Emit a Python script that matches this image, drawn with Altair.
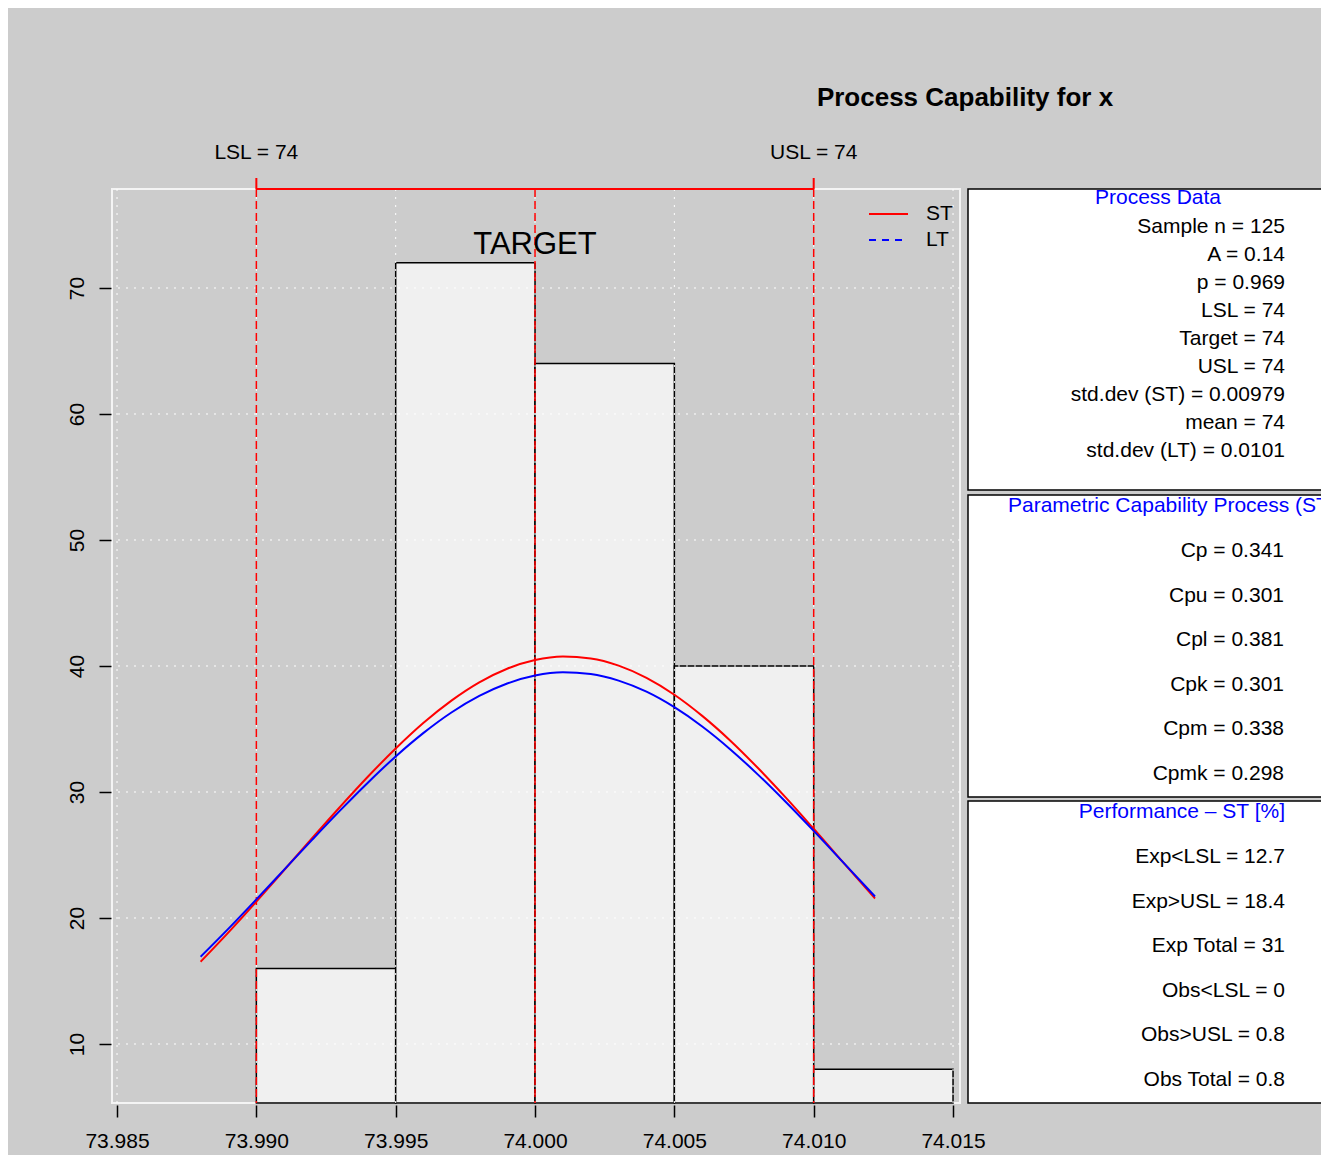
import altair as alt
import pandas as pd

# ---------------- data ----------------
bin_left = [73.990, 73.995, 74.000, 74.005, 74.010]
bin_right = [73.995, 74.000, 74.005, 74.010, 74.015]
density = [16, 72, 64, 40, 8]

curve_x = [73.988, 73.989, 73.990, 73.991, 73.992, 73.993, 73.994, 73.995,
           73.996, 73.997, 73.998, 73.999, 74.000, 74.001, 74.002, 74.003,
           74.004, 74.005, 74.006, 74.007, 74.008, 74.009, 74.010, 74.011,
           74.012, 74.0122]
st_density = [16.53, 18.86, 21.30, 23.81, 26.33, 28.81, 31.21, 33.45,
              35.49, 37.25, 38.70, 39.78, 40.47, 40.75, 40.60, 40.03,
              39.06, 37.72, 36.04, 34.09, 31.90, 29.55, 27.08, 24.56,
              22.05, 21.55]
lt_density = [16.93, 19.16, 21.48, 23.84, 26.20, 28.52, 30.74, 32.82,
              34.69, 36.31, 37.62, 38.61, 39.24, 39.50, 39.36, 38.84,
              37.96, 36.73, 35.20, 33.40, 31.38, 29.20, 26.91, 24.55,
              22.18, 21.71]

spec_values = [73.990, 74.000, 74.010]          # LSL, Target, USL
limit_values = [73.990, 74.010]
limit_labels = ["LSL = 74", "USL = 74"]
target_value = 74.000
target_label = "TARGET"

x_ticks = [73.985, 73.990, 73.995, 74.000, 74.005, 74.010, 74.015]
y_ticks = [10, 20, 30, 40, 50, 60, 70]

chart_title = "Process Capability for x"
legend_labels = ["ST", "LT"]
legend_colors = ["#FF0000", "#0000FF"]

process_title = "Process Data"
process_lines = ["Sample n = 125", "A = 0.14", "p = 0.969", "LSL = 74",
                 "Target = 74", "USL = 74", "std.dev (ST) = 0.00979",
                 "mean = 74", "std.dev (LT) = 0.0101"]
cap_title = "Parametric Capability Process (ST)"
cap_lines = ["Cp = 0.341", "Cpu = 0.301", "Cpl = 0.381", "Cpk = 0.301",
             "Cpm = 0.338", "Cpmk = 0.298"]
perf_title = "Performance \u2013 ST [%]"
perf_lines = ["Exp<LSL = 12.7", "Exp>USL = 18.4", "Exp Total = 31",
              "Obs<LSL = 0", "Obs>USL = 0.8", "Obs Total = 0.8"]

# ---------------- layout ----------------
FONT = "Liberation Sans"
PW, PH = 848, 914
one = pd.DataFrame({"a": [0]})

xs = alt.Scale(domain=[73.98482, 74.01525], nice=False, zero=False)
ys = alt.Scale(domain=[5.317, 77.857], nice=False, zero=False)

x_axis = alt.Axis(values=x_ticks, format=".3f", title=None, grid=False,
                  domain=False, tickColor="black", tickWidth=1.5, tickSize=12,
                  offset=2, labelFontSize=21, labelColor="black", labelFont=FONT,
                  labelPadding=13, labelFlush=False, labelOverlap=False)
y_axis = alt.Axis(values=y_ticks, title=None, grid=False, domain=False,
                  tickColor="black", tickWidth=1.5, tickSize=12, offset=1,
                  labelAngle=270, labelAlign="center", labelBaseline="bottom",
                  labelPadding=12, labelFontSize=21, labelColor="black",
                  labelFont=FONT, labelFlush=False, labelOverlap=False)

df_bins = pd.DataFrame({"left": bin_left, "right": bin_right, "density": density})
bars = alt.Chart(df_bins).mark_rect(fill="#F0F0F0", stroke="black", strokeWidth=1.5).encode(
    x=alt.X("left:Q", scale=xs, axis=x_axis),
    x2="right:Q",
    y=alt.Y("density:Q", scale=ys, axis=y_axis),
    y2=alt.value(PH),
)

vgrid = alt.Chart(pd.DataFrame({"v": x_ticks})).mark_rule(
    color="white", strokeDash=[2, 6], strokeWidth=1).encode(x=alt.X("v:Q", scale=xs))
hgrid = alt.Chart(pd.DataFrame({"v": y_ticks})).mark_rule(
    color="white", strokeDash=[2, 6], strokeWidth=1).encode(y=alt.Y("v:Q", scale=ys))

spec = alt.Chart(pd.DataFrame({"v": spec_values})).mark_rule(
    color="#FF0000", strokeDash=[8, 4], strokeWidth=1.5).encode(x=alt.X("v:Q", scale=xs))

df_lim = pd.DataFrame({"v": limit_values, "label": limit_labels})
bracket = alt.Chart(pd.DataFrame({"lo": [limit_values[0]], "hi": [limit_values[1]]})).mark_rule(
    color="#FF0000", strokeWidth=2).encode(x=alt.X("lo:Q", scale=xs), x2="hi:Q", y=alt.value(0))
bracket_ticks = alt.Chart(df_lim).mark_rule(color="#FF0000", strokeWidth=2).encode(
    x=alt.X("v:Q", scale=xs), y=alt.value(-11), y2=alt.value(0))
lim_text = alt.Chart(df_lim).mark_text(font=FONT, fontSize=21, color="black", baseline="middle").encode(
    x=alt.X("v:Q", scale=xs), y=alt.value(-36), text="label:N")
target_text = alt.Chart(pd.DataFrame({"v": [target_value], "t": [target_label]})).mark_text(
    font=FONT, fontSize=31, color="black", baseline="middle").encode(
    x=alt.X("v:Q", scale=xs), y=alt.value(56), text="t:N")

df_curve = pd.DataFrame({"x": curve_x, "st": st_density, "lt": lt_density})
st_line = alt.Chart(df_curve).mark_line(color=legend_colors[0], strokeWidth=2, interpolate="monotone").encode(
    x=alt.X("x:Q", scale=xs), y=alt.Y("st:Q", scale=ys))
lt_line = alt.Chart(df_curve).mark_line(color=legend_colors[1], strokeWidth=2, interpolate="monotone").encode(
    x=alt.X("x:Q", scale=xs), y=alt.Y("lt:Q", scale=ys))

layers = [bars, vgrid, hgrid, bracket_ticks, spec, bracket, st_line, lt_line, lim_text, target_text]

# legend
for i, (lab, col) in enumerate(zip(legend_labels, legend_colors)):
    yy = 25 + i * 26
    dash = [1, 0] if i == 0 else [7, 6]
    layers.append(alt.Chart(one).mark_rule(color=col, strokeWidth=2, strokeDash=dash).encode(
        x=alt.value(757), x2=alt.value(796), y=alt.value(yy)))
    layers.append(alt.Chart(one).mark_text(font=FONT, fontSize=21, color="black", align="left",
                                           baseline="middle").encode(
        x=alt.value(814), y=alt.value(yy), text=alt.value(lab)))

# title
layers.append(alt.Chart(one).mark_text(font=FONT, fontSize=26, fontWeight="bold", color="black",
                                       baseline="middle").encode(
    x=alt.value(853), y=alt.value(-91), text=alt.value(chart_title)))

# side boxes
for top, bot in [(0, 301), (306, 608), (612, PH)]:
    layers.append(alt.Chart(one).mark_rect(fill="white", stroke="black", strokeWidth=1.5).encode(
        x=alt.value(856), x2=alt.value(1240), y=alt.value(top), y2=alt.value(bot)))

RX = 1173
def txt(s, x, y, align="right", color="black"):
    return alt.Chart(one).mark_text(font=FONT, fontSize=21, color=color, align=align,
                                    baseline="middle").encode(
        x=alt.value(x), y=alt.value(y), text=alt.value(s))

layers.append(txt(process_title, 1046, 9, align="center", color="#0000FF"))
for i, s in enumerate(process_lines):
    layers.append(txt(s, RX, 38 + i * 28))
layers.append(txt(cap_title, 896, 317, align="left", color="#0000FF"))
for i, s in enumerate(cap_lines):
    layers.append(txt(s, RX - 1, 362 + i * 44.6))
layers.append(txt(perf_title, RX, 623, color="#0000FF"))
for i, s in enumerate(perf_lines):
    layers.append(txt(s, RX, 668 + i * 44.6))

chart = alt.layer(*layers).properties(
    width=PW, height=PH,
    autosize=alt.AutoSizeParams(type="none"),
    padding={"left": 104, "top": 181, "right": 361, "bottom": 52},
    background="#CCCCCC",
).configure_view(stroke="#F4F4F4", strokeWidth=2, fill=None)

chart.save("out.html", embed_options={"renderer": "svg", "actions": False})
